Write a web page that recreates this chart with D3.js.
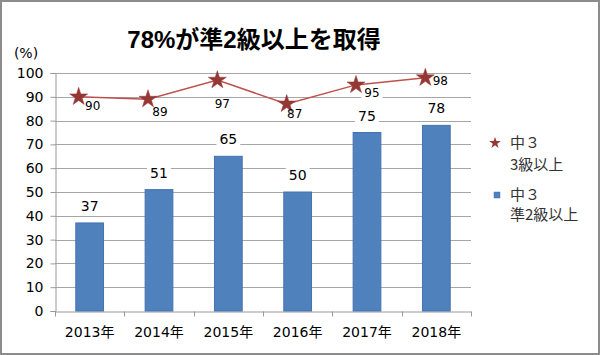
<!DOCTYPE html>
<html><head><meta charset="utf-8">
<script src="https://cdn.jsdelivr.net/npm/d3@7"></script>
<style>
html,body{margin:0;padding:0;background:#fff;}
svg{display:block;}
</style></head>
<body>
<script>
// ---- data ----
const categories = ["2013年","2014年","2015年","2016年","2017年","2018年"];
const barValues = [37, 51, 65, 50, 75, 78];          // 中３ 準2級以上
const lineValues = [90, 89, 97, 87, 95, 98];         // 中３ 3級以上
const yTickValues = [0,10,20,30,40,50,60,70,80,90,100];
const titleText = "78%が準2級以上を取得";
const unitText = "(%)";
const legendLine = ["中３","3級以上"];
const legendBar = ["中３","準2級以上"];

// ---- layout ----
const W = 600, H = 355;
const plot = {left:55, right:471, top:73, bottom:311};
const lineLabelOffsets = [[14,9],[12,13],[5,24],[8,10],[16,8],[15,3]];
const FONT = "'DejaVu Sans','Noto Sans CJK JP',sans-serif";

const svg = d3.select("body").append("svg").attr("width",W).attr("height",H);
svg.append("rect").attr("x",0).attr("y",0).attr("width",W).attr("height",H).attr("fill","#fff");
svg.append("rect").attr("x",1).attr("y",1).attr("width",598).attr("height",353)
  .attr("fill","none").attr("stroke","#8c8c8c").attr("stroke-width",2);

const x = d3.scaleBand().domain(categories).range([plot.left, plot.right])
  .paddingInner(0.6).paddingOuter(0.3);
const y = d3.scaleLinear().domain([0,100]).range([plot.bottom, plot.top]);

// title
svg.append("text").attr("x",254).attr("y",48).attr("text-anchor","middle")
  .attr("font-family","'Liberation Sans','Noto Sans CJK JP',sans-serif")
  .attr("font-weight","bold").attr("font-size",24).attr("fill","#000").text(titleText);
svg.append("text").attr("x",26).attr("y",58).attr("text-anchor","middle")
  .attr("font-family",FONT).attr("font-size",14).attr("fill","#000").text(unitText);

// gridlines
svg.append("g").selectAll("line").data(yTickValues.filter(d=>d>0)).join("line")
  .attr("x1",plot.left).attr("x2",plot.right)
  .attr("y1",d=>Math.round(y(d))+0.5).attr("y2",d=>Math.round(y(d))+0.5)
  .attr("stroke","#a6a6a6").attr("stroke-width",1);

// y axis
const yAxis = svg.append("g").attr("transform",`translate(${plot.left+0.5},0)`)
  .call(d3.axisLeft(y).tickValues(yTickValues).tickSize(5).tickPadding(7));
yAxis.select(".domain").attr("stroke","#999");
yAxis.selectAll(".tick line").attr("stroke","#999");
yAxis.selectAll(".tick text").attr("font-family",FONT).attr("font-size",14).attr("fill","#000");

// x axis
const xAxis = svg.append("g").attr("transform",`translate(0,${plot.bottom+0.5})`)
  .call(d3.axisBottom(x).tickSize(0).tickPadding(16));
xAxis.select(".domain").attr("stroke","#999");
xAxis.selectAll(".tick text").attr("font-family",FONT).attr("font-size",14).attr("fill","#000");
const bounds = categories.map(d => x(d) + x.bandwidth()/2 - x.step()/2)
  .concat([x(categories[categories.length-1]) + x.bandwidth()/2 + x.step()/2]);
xAxis.append("g").selectAll("line").data(bounds).join("line")
  .attr("x1",d=>Math.round(d)+0.5).attr("x2",d=>Math.round(d)+0.5)
  .attr("y1",0).attr("y2",5).attr("stroke","#999");

// label layers
const boxLayer = svg.append("g");
const barLayer = svg.append("g");
const lineLayer = svg.append("g");
const textLayer = svg.append("g");

// bars
barLayer.selectAll("rect").data(barValues).join("rect")
  .attr("x",(d,i)=>x(categories[i])).attr("width",x.bandwidth())
  .attr("y",d=>y(d)).attr("height",d=>y(0)-y(d))
  .attr("fill","#4f81bd").attr("stroke","#4472b0").attr("stroke-width",1);

function addLabel(tx, ty, txt, size){
  const t = textLayer.append("text").attr("x",tx).attr("y",ty)
    .attr("text-anchor","middle").attr("dominant-baseline","central")
    .attr("font-family",FONT).attr("font-size",size).attr("fill","#000").text(txt);
  const b = t.node().getBBox();
  boxLayer.append("rect").attr("x",b.x-3).attr("y",b.y+1).attr("width",b.width+6).attr("height",b.height-2)
    .attr("fill","#fff");
}
barValues.forEach((v,i)=>{
  addLabel(x(categories[i]) + x.bandwidth()/2, y(v) - 17, String(v), 14);
});

// line
const lx = (i) => x(categories[i]) + x.bandwidth()/2 - 11;
const line = d3.line().x((d,i)=>lx(i)).y(d=>y(d));
lineLayer.append("path").datum(lineValues).attr("d",line)
  .attr("fill","none").attr("stroke","#c0504d").attr("stroke-width",1.5);
const star = d3.symbol().type(d3.symbolStar).size(100);
lineLayer.selectAll("path.star").data(lineValues).join("path").attr("class","star")
  .attr("d",star).attr("transform",(d,i)=>`translate(${lx(i)},${y(d)})`)
  .attr("fill","#953735").attr("stroke","#953735").attr("stroke-width",0.5);
lineValues.forEach((v,i)=>{
  const o = lineLabelOffsets[i];
  addLabel(lx(i)+o[0], y(v)+o[1], String(v), 12);
});

// legend
const lg = svg.append("g");
lg.append("path").attr("d",d3.symbol().type(d3.symbolStar).size(42)())
  .attr("transform","translate(495,143)").attr("fill","#953735");
lg.append("rect").attr("x",494).attr("y",192).attr("width",6).attr("height",6)
  .attr("fill","#4f81bd").attr("stroke","#4472b0").attr("stroke-width",0.5);
const legText = [[legendLine[0],148],[legendLine[1],170],[legendBar[0],200],[legendBar[1],220]];
lg.selectAll("text").data(legText).join("text")
  .attr("x",510).attr("y",d=>d[1]).text(d=>d[0])
  .attr("font-family","'Noto Sans CJK JP','DejaVu Sans',sans-serif").attr("font-size",15).attr("fill","#333");
</script>
</body></html>
